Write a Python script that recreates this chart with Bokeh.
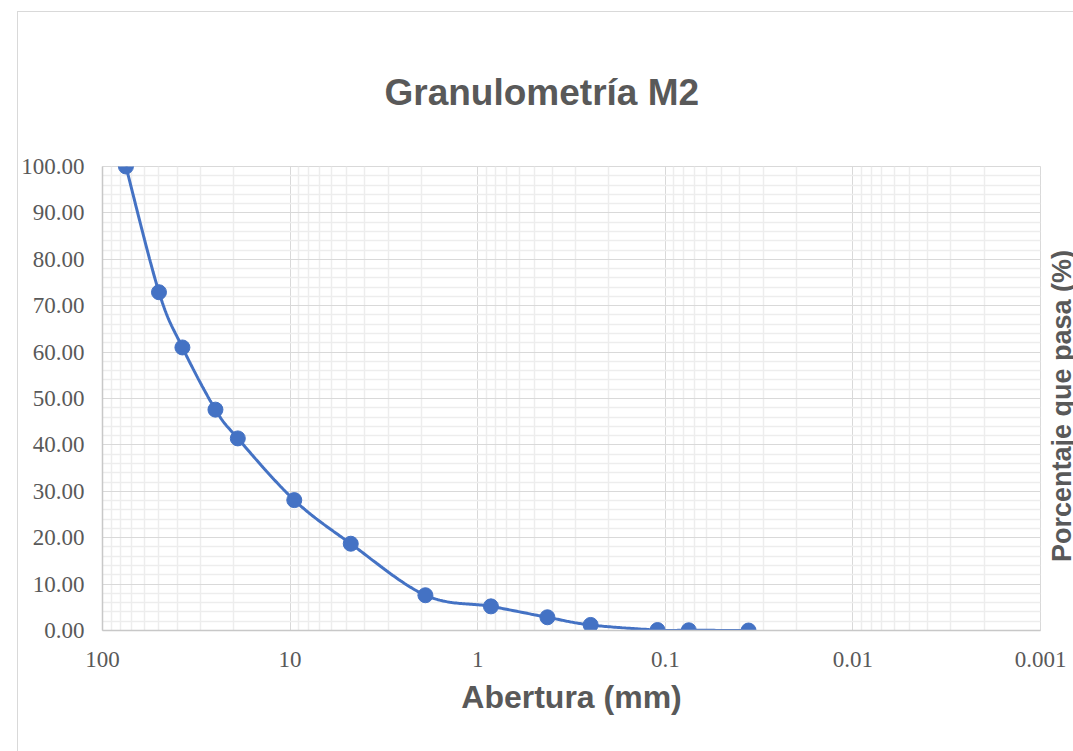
import numpy as np
from bokeh.plotting import figure
from bokeh.models import (Range1d, FixedTicker, NumeralTickFormatter,
                          CustomJSTickFormatter, Title, Div)
from bokeh.embed import file_html
from bokeh.resources import INLINE

# ---- data ----
abertura_mm = [75, 50, 37.5, 25, 19, 9.5, 4.75, 1.9, 0.85, 0.425, 0.25, 0.11, 0.075, 0.036]
porcentaje_pasa = [100.0, 72.9, 61.0, 47.6, 41.4, 28.1, 18.7, 7.6, 5.2, 2.85, 1.2, 0.1, 0.05, 0.0]
x_ticks = [100, 10, 1, 0.1, 0.01, 0.001]
x_tick_labels = ["100", "10", "1", "0.1", "0.01", "0.001"]
y_ticks = list(range(0, 101, 10))

title_text = "Granulometría M2"
x_label = "Abertura (mm)"
y_label = "Porcentaje que pasa (%)"

GRAY = "#595959"
BLUE = "#4472C4"

# minor ticks (Excel-like log minor grid)
x_minor = [m * 10.0 ** k for k in range(-3, 2) for m in range(2, 10)]
y_minor = [v for v in range(0, 101, 2) if v % 10]

p = figure(x_axis_type="log", x_range=Range1d(100, 0.001), y_range=Range1d(0, 100),
           frame_width=938, frame_height=464,
           min_border_left=84, min_border_right=34, min_border_top=154, min_border_bottom=122,
           output_backend="svg", toolbar_location=None,
           margin=(11, 0, 0, 17),
           styles={"border-left": "1px solid #D9D9D9", "border-top": "1px solid #D9D9D9"})

p.background_fill_color = "white"
p.border_fill_color = "white"
p.outline_line_color = "#D9D9D9"

p.title = Title(text=title_text, align="left", text_font_size="37px",
                text_font="Liberation Sans", text_font_style="bold", text_color=GRAY,
                offset=282, standoff=108)

# x axis
p.xaxis.ticker = FixedTicker(ticks=x_ticks, minor_ticks=x_minor)
p.xaxis.formatter = CustomJSTickFormatter(args=dict(xt=x_ticks, xl=x_tick_labels), code="""
    for (let i = 0; i < xt.length; i++) {
        if (Math.abs(Math.log10(xt[i]) - Math.log10(tick)) < 1e-6) return xl[i];
    }
    return '';
""")
p.xaxis.axis_label = x_label
# y axis
p.yaxis.ticker = FixedTicker(ticks=y_ticks, minor_ticks=y_minor)
p.yaxis.formatter = NumeralTickFormatter(format="0.00")

for ax in (p.xaxis[0], p.yaxis[0]):
    ax.major_tick_out = 0
    ax.major_tick_in = 0
    ax.minor_tick_out = 0
    ax.minor_tick_in = 0
    ax.axis_line_color = "#C8C8C8"
    ax.axis_line_width = 1.5
    ax.major_label_text_font = "Liberation Serif"
    ax.major_label_text_font_size = "23px"
    ax.major_label_text_color = GRAY
    ax.axis_label_text_font = "Liberation Sans"
    ax.axis_label_text_font_style = "bold"
    ax.axis_label_text_color = GRAY

p.xaxis.major_label_standoff = 21
p.xaxis.axis_label_text_font_size = "32px"
p.xaxis.axis_label_standoff = 9
p.yaxis.major_label_standoff = 18

# grids
p.xgrid.grid_line_color = "#D9D9D9"
p.ygrid.grid_line_color = "#D9D9D9"
p.xgrid.minor_grid_line_color = "#EDEDED"
p.ygrid.minor_grid_line_color = "#EDEDED"
p.xgrid.minor_grid_line_width = 1.5
p.ygrid.minor_grid_line_width = 1.5

# smoothed line (Excel-like Bezier smoothing in display-proportional space)
u = -np.log10(np.array(abertura_mm, dtype=float)) * 188.0
v = np.array(porcentaje_pasa, dtype=float) * 4.643
pts = np.column_stack([u, v])
n = len(pts)
su, sv = [], []
t = np.linspace(0, 1, 40)
for i in range(n - 1):
    p0 = pts[max(i - 1, 0)]
    p1 = pts[i]
    p2 = pts[i + 1]
    p3 = pts[min(i + 2, n - 1)]
    c1 = p1 + (p2 - p0) / 6.0
    c2 = p2 - (p3 - p1) / 6.0
    b = (((1 - t) ** 3)[:, None] * p1 + (3 * (1 - t) ** 2 * t)[:, None] * c1
         + (3 * (1 - t) * t ** 2)[:, None] * c2 + (t ** 3)[:, None] * p2)
    su.extend(b[:, 0])
    sv.extend(b[:, 1])
smooth_x = 10 ** (-np.array(su) / 188.0)
smooth_y = np.array(sv) / 4.643

p.line(smooth_x, smooth_y, line_color=BLUE, line_width=3)
p.scatter(abertura_mm, porcentaje_pasa, size=15, fill_color=BLUE, line_color=BLUE)

# right-hand y label (reads bottom to top), overlaid at the right edge of the chart
ylab = Div(text=('<div style="writing-mode: vertical-rl; transform: rotate(180deg); '
                 'white-space: nowrap; font-family: \'Liberation Sans\'; font-weight: bold; '
                 'font-size: 27px; line-height: 30px; width: 30px; color: #595959;">'
                 + y_label + '</div>'),
           width=30, height=330,
           styles={"position": "absolute", "left": "1042px", "top": "245px",
                   "overflow": "visible"})

open("out.html", "w").write(file_html([p, ylab], INLINE))
